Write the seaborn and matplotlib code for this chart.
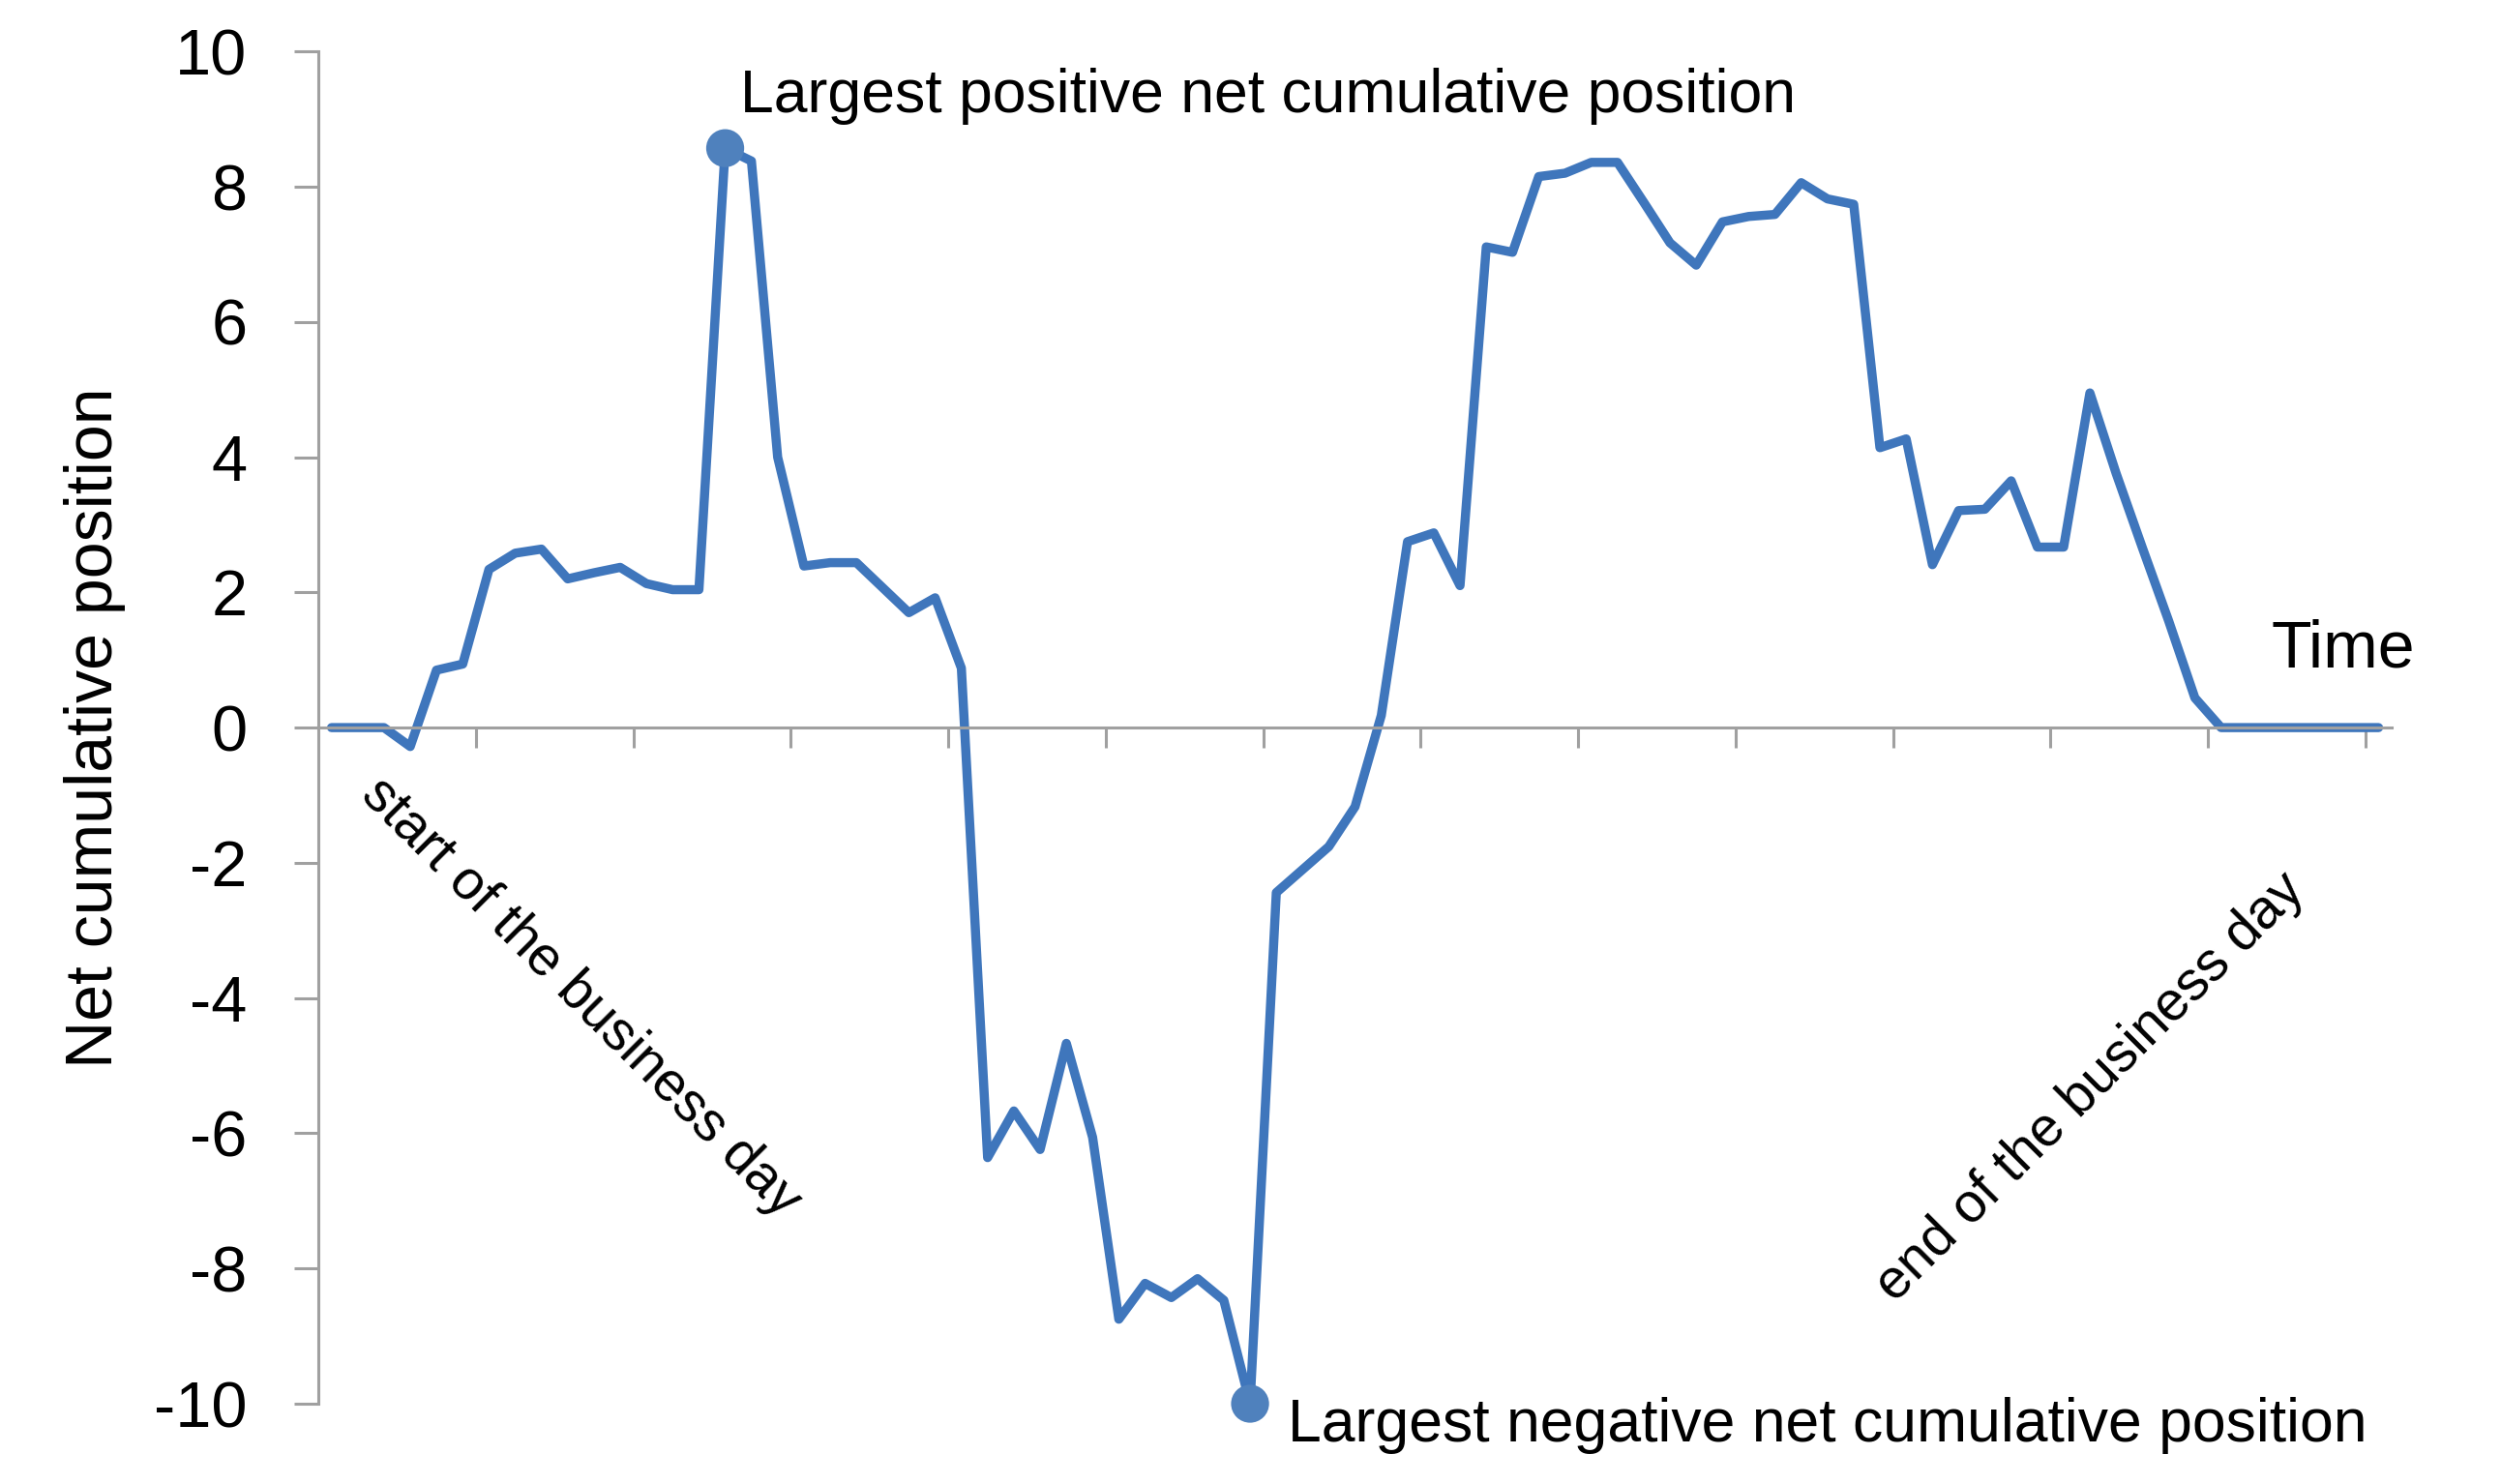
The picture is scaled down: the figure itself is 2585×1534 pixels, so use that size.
import numpy as np
import pandas as pd
import seaborn as sns
import matplotlib.pyplot as plt

# net cumulative position per time slot (79 slots over the business day)
position = [0, 0, 0, -0.28, 0.85, 0.94, 2.34, 2.58, 2.64, 2.20,
            2.29, 2.37, 2.13, 2.04, 2.04, 8.57, 8.38, 4.00, 2.39, 2.44,
            2.44, 2.07, 1.70, 1.92, 0.88, -6.36, -5.67, -6.24, -4.67, -6.06,
            -8.75, -8.22, -8.43, -8.15, -8.47, -10.0, -2.44, -2.10, -1.76, -1.17,
            0.18, 2.75, 2.88, 2.10, 7.11, 7.03, 8.15, 8.20, 8.36, 8.36,
            7.77, 7.17, 6.84, 7.48, 7.56, 7.59, 8.06, 7.82, 7.74, 4.14,
            4.27, 2.41, 3.21, 3.23, 3.65, 2.67, 2.67, 4.95, 3.76, 2.66,
            1.58, 0.44, 0, 0, 0, 0, 0, 0, 0]
slot = list(range(len(position)))
y_ticks = [-10, -8, -6, -4, -2, 0, 2, 4, 6, 8, 10]

df = pd.DataFrame({'slot': slot, 'position': position})
# the two extremes get a marker
extremes = df.loc[[df['position'].idxmax(), df['position'].idxmin()]]

sns.set_style('white')
plt.rcParams['font.family'] = ['Liberation Sans', 'DejaVu Sans']
plt.rcParams['axes.unicode_minus'] = False
plt.rcParams['text.color'] = 'black'
plt.rcParams['axes.labelcolor'] = 'black'

blue = '#3F76BC'
grey = '#A0A0A0'

fig = plt.figure(figsize=(25.85, 15.34), dpi=100)
ax = fig.add_axes([0.1273, 0.0541, 0.829, 0.9112])

sns.lineplot(data=df, x='slot', y='position', ax=ax, color=blue,
             linewidth=6.8, clip_on=False)
sns.scatterplot(data=extremes, x='slot', y='position', ax=ax, color='#4F81BD',
                s=800, edgecolor='none', zorder=3, clip_on=False)

ax.set_xlim(-0.5, len(position) - 0.5)
ax.set_ylim(-10, 10)
ax.set_yticks(y_ticks)
ax.set_xticks(np.arange(5.5, len(position), 6))
ax.set_xticklabels([])
ax.set_xlabel('')

# axis look: x axis crosses at zero, grey lines, outward ticks
for side in ['top', 'right']:
    ax.spines[side].set_visible(False)
ax.spines['bottom'].set_position(('data', 0))
for side in ['left', 'bottom']:
    ax.spines[side].set_color(grey)
    ax.spines[side].set_linewidth(2.2)
ax.tick_params(axis='y', direction='out', length=18, width=2.2, color=grey,
               pad=35, labelsize=48, labelcolor='black', left=True)
ax.tick_params(axis='x', direction='out', length=15, width=2.2, color=grey,
               bottom=True)

ax.set_ylabel('Net cumulative position', fontsize=49, color='black')
ax.yaxis.set_label_coords(-0.093, 0.5)

pk = extremes.iloc[0]
lo = extremes.iloc[1]
ax.annotate('Largest positive net cumulative position',
            xy=(pk['slot'], pk['position']), xytext=(11, 26.6),
            textcoords='offset points', ha='left', va='baseline', fontsize=45)
ax.annotate('Largest negative net cumulative position',
            xy=(lo['slot'], lo['position']), xytext=(28, -28),
            textcoords='offset points', ha='left', va='baseline', fontsize=45,
            annotation_clip=False)

ax.text(73.92, 0.895, 'Time', ha='left', va='baseline', fontsize=49)
ax.text(9.49, -3.99, 'start of the business day', rotation=-45,
        rotation_mode='anchor', ha='center', va='center', fontsize=41)
ax.text(67.03, -5.32, 'end of the business day', rotation=45,
        rotation_mode='anchor', ha='center', va='center', fontsize=41)

fig.savefig('out.png', dpi=100, facecolor='white')
